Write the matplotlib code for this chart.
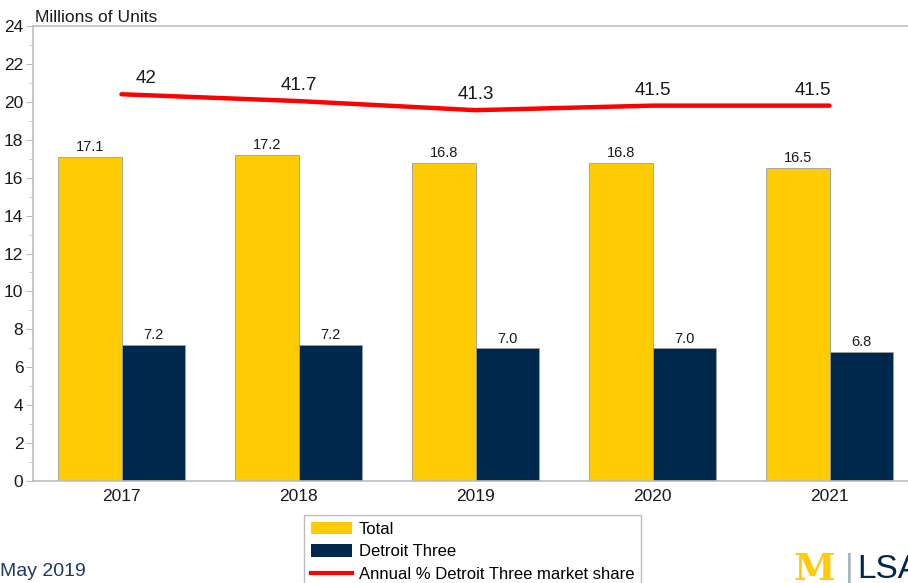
import numpy as np
import matplotlib.pyplot as plt
from matplotlib.patches import Patch
from matplotlib.lines import Line2D

plt.rcParams['font.family'] = ['Liberation Sans', 'DejaVu Sans']

years = ['2017', '2018', '2019', '2020', '2021']
total = [17.1, 17.2, 16.8, 16.8, 16.5]
detroit_three = [7.2, 7.2, 7.0, 7.0, 6.8]
share = [42, 41.7, 41.3, 41.5, 41.5]
share_labels = ['42', '41.7', '41.3', '41.5', '41.5']

maize = '#FFCB05'
navy = '#00274C'
grid_gray = '#BDBDBD'
txt = '#1A1A1A'

fig = plt.figure(figsize=(9.08, 5.83), dpi=100)
ax = fig.add_axes([33 / 908, 102 / 583, 885 / 908, 455 / 583])

x = np.arange(len(years))
w = 0.356
ax.bar(x - w / 2, total, w, color=maize, edgecolor='#9E9E9E', linewidth=0.6)
ax.bar(x + w / 2, detroit_three, w, color=navy, edgecolor='#9E9E9E', linewidth=0.6)

for xi, v in zip(x, total):
    ax.annotate(f'{v:.1f}', (xi - w / 2, v), xytext=(0, 2), textcoords='offset points',
                ha='center', va='bottom', fontsize=10.5, color=txt)
for xi, v in zip(x, detroit_three):
    ax.annotate(f'{v:.1f}', (xi + w / 2, v), xytext=(0, 2), textcoords='offset points',
                ha='center', va='bottom', fontsize=10.5, color=txt)

ax.set_xlim(-0.5, 4.5)
ax.set_ylim(0, 24)
ax.set_yticks(range(0, 25, 2))
ax.set_yticks(range(1, 24, 2), minor=True)
ax.set_xticks(x)
ax.set_xticklabels(years, fontsize=12.5, color=txt)
ax.tick_params(axis='y', labelsize=12.5, colors=grid_gray, labelcolor=txt, length=5, pad=2)
ax.tick_params(axis='y', which='minor', length=3, colors=grid_gray)
ax.tick_params(axis='x', length=0, pad=6)
for s in ax.spines.values():
    s.set_color(grid_gray)
    s.set_linewidth(1.2)

# market share on a hidden second scale
ax2 = ax.twinx()
ax2.set_ylim(25, 45)
ax2.axis('off')
ax2.plot(x, share, color='#FF0000', linewidth=3.2, solid_capstyle='round')
for i, (xi, v, lab) in enumerate(zip(x, share, share_labels)):
    if i == 0:
        ha, dx = 'left', 10
    elif i == len(x) - 1:
        ha, dx = 'right', 1
    else:
        ha, dx = 'center', 0
    ax2.annotate(lab, (xi, v), xytext=(dx, 5), textcoords='offset points',
                 ha=ha, va='bottom', fontsize=13.5, color=txt)

fig.text(35 / 908, 1 - 17 / 583, 'Millions of Units', fontsize=12.5, color=txt, va='center')

handles = [Patch(facecolor=maize, edgecolor='none'),
           Patch(facecolor=navy, edgecolor='none'),
           Line2D([0], [0], color='#FF0000', linewidth=3)]
fig.legend(handles, ['Total', 'Detroit Three', 'Annual % Detroit Three market share'],
           loc='upper left', bbox_to_anchor=(304 / 908, 1 - 515 / 583), fontsize=12,
           frameon=True, fancybox=False, edgecolor=grid_gray, framealpha=1,
           handlelength=2.5, handleheight=0.8, labelspacing=0.45, borderpad=0.4,
           handletextpad=0.4, borderaxespad=0)

fig.text(0, 1 - 571 / 583, 'May 2019', fontsize=14, color='#1F3A63', va='center')

# logo
fig.text(793 / 908, 1 - 569 / 583, 'M', fontsize=27, fontweight='bold', color=maize,
         va='center', family='DejaVu Serif')
fig.text(845 / 908, 1 - 568 / 583, '|', fontsize=24, color='#A8B4C0', va='center')
fig.text(857 / 908, 1 - 569 / 583, 'LSA', fontsize=24, color=navy, va='center',
         family=['Liberation Sans Narrow', 'Liberation Sans'])

fig.savefig('out.png', dpi=100)
